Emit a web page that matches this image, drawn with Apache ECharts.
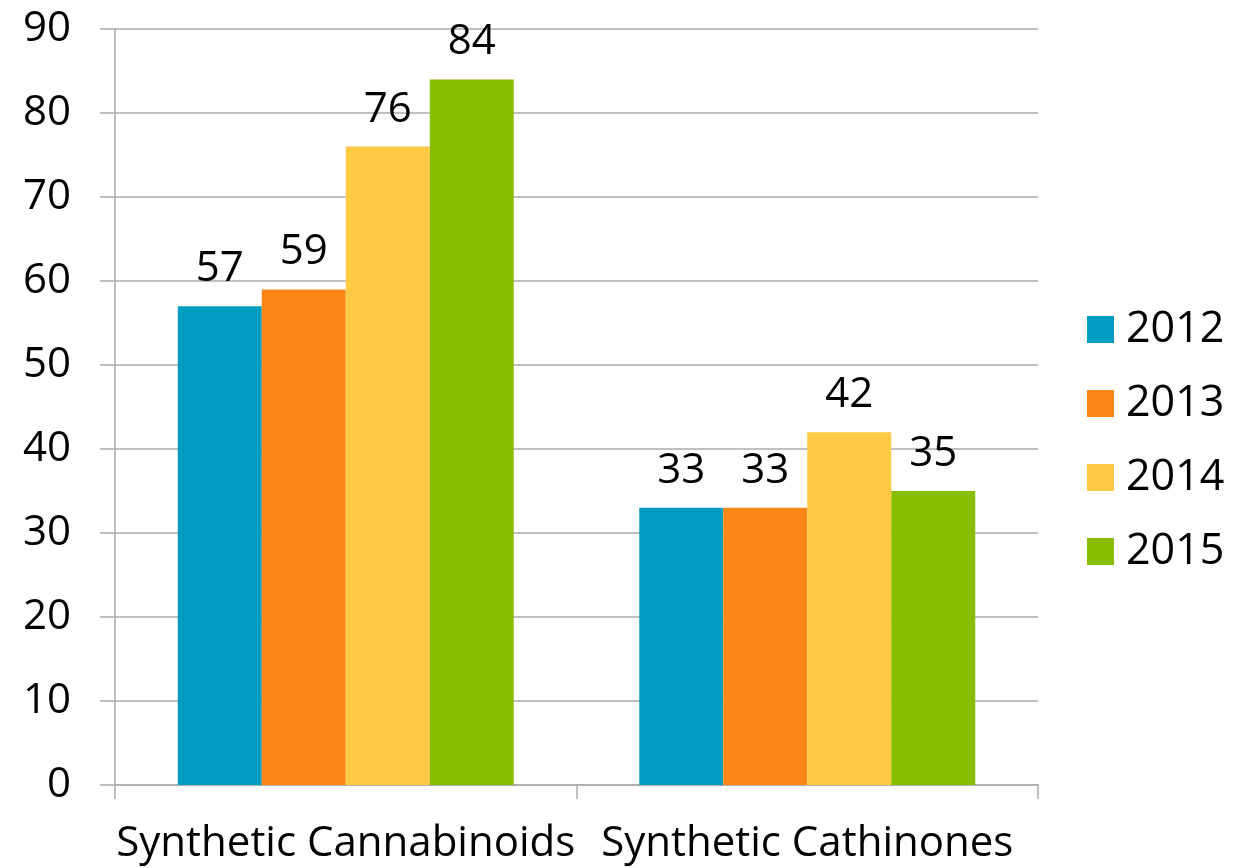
<!DOCTYPE html>
<html><head><meta charset="utf-8">
<script src="https://cdn.jsdelivr.net/npm/echarts@6/dist/echarts.min.js"></script>
<style>html,body{margin:0;padding:0;background:#fff}#c{width:1245px;height:868px}</style>
</head><body><div id="c"></div>
<script>
var categories = ["Synthetic Cannabinoids", "Synthetic Cathinones"];
var years = ["2012", "2013", "2014", "2015"];
var v2012 = [57, 33];
var v2013 = [59, 33];
var v2014 = [76, 42];
var v2015 = [84, 35];
var yTicks = {min: 0, max: 90, interval: 10};
var colors = ["#039DC2", "#FF8718", "#FFC945", "#89BE00"];
var values = [v2012, v2013, v2014, v2015];
var FONT = "Open Sans";
var gridColor = "#ABABAB";
var chart = echarts.init(document.getElementById('c'), null, {renderer: 'canvas'});
chart.setOption({
  animation: false,
  textStyle: {fontFamily: FONT},
  grid: {left: 115, right: 207, top: 29, bottom: 83, containLabel: false},
  legend: {
    orient: 'vertical', left: 1087, top: 307, padding: 0,
    itemWidth: 27, itemHeight: 27, itemGap: 29,
    icon: 'rect',
    textStyle: {fontFamily: FONT, fontSize: 43, color: '#000', lineHeight: 45, padding: [0,0,0,7]},
    data: years
  },
  xAxis: {
    type: 'category', data: categories,
    axisLine: {show: true, lineStyle: {color: gridColor, width: 1.5}},
    axisTick: {show: true, length: 14, lineStyle: {color: gridColor, width: 1.5}},
    axisLabel: {fontFamily: FONT, fontSize: 42, color: '#000', margin: 38, interval: 0}
  },
  yAxis: {
    type: 'value', min: yTicks.min, max: yTicks.max, interval: yTicks.interval,
    axisLine: {show: true, lineStyle: {color: gridColor, width: 1.5}},
    axisTick: {show: true, length: 15, lineStyle: {color: gridColor, width: 1.5}},
    splitLine: {show: true, lineStyle: {color: gridColor, width: 1.5}},
    axisLabel: {fontFamily: FONT, fontSize: 42, color: '#000', margin: 44}
  },
  series: years.map(function (y, i) {
    return {
      name: y, type: 'bar', data: values[i],
      barGap: '0%', barCategoryGap: '27.2%',
      itemStyle: {color: colors[i]},
      label: {show: true, position: 'top', distance: 16, fontFamily: FONT, fontSize: 42, color: '#000'}
    };
  })
});
</script></body></html>
